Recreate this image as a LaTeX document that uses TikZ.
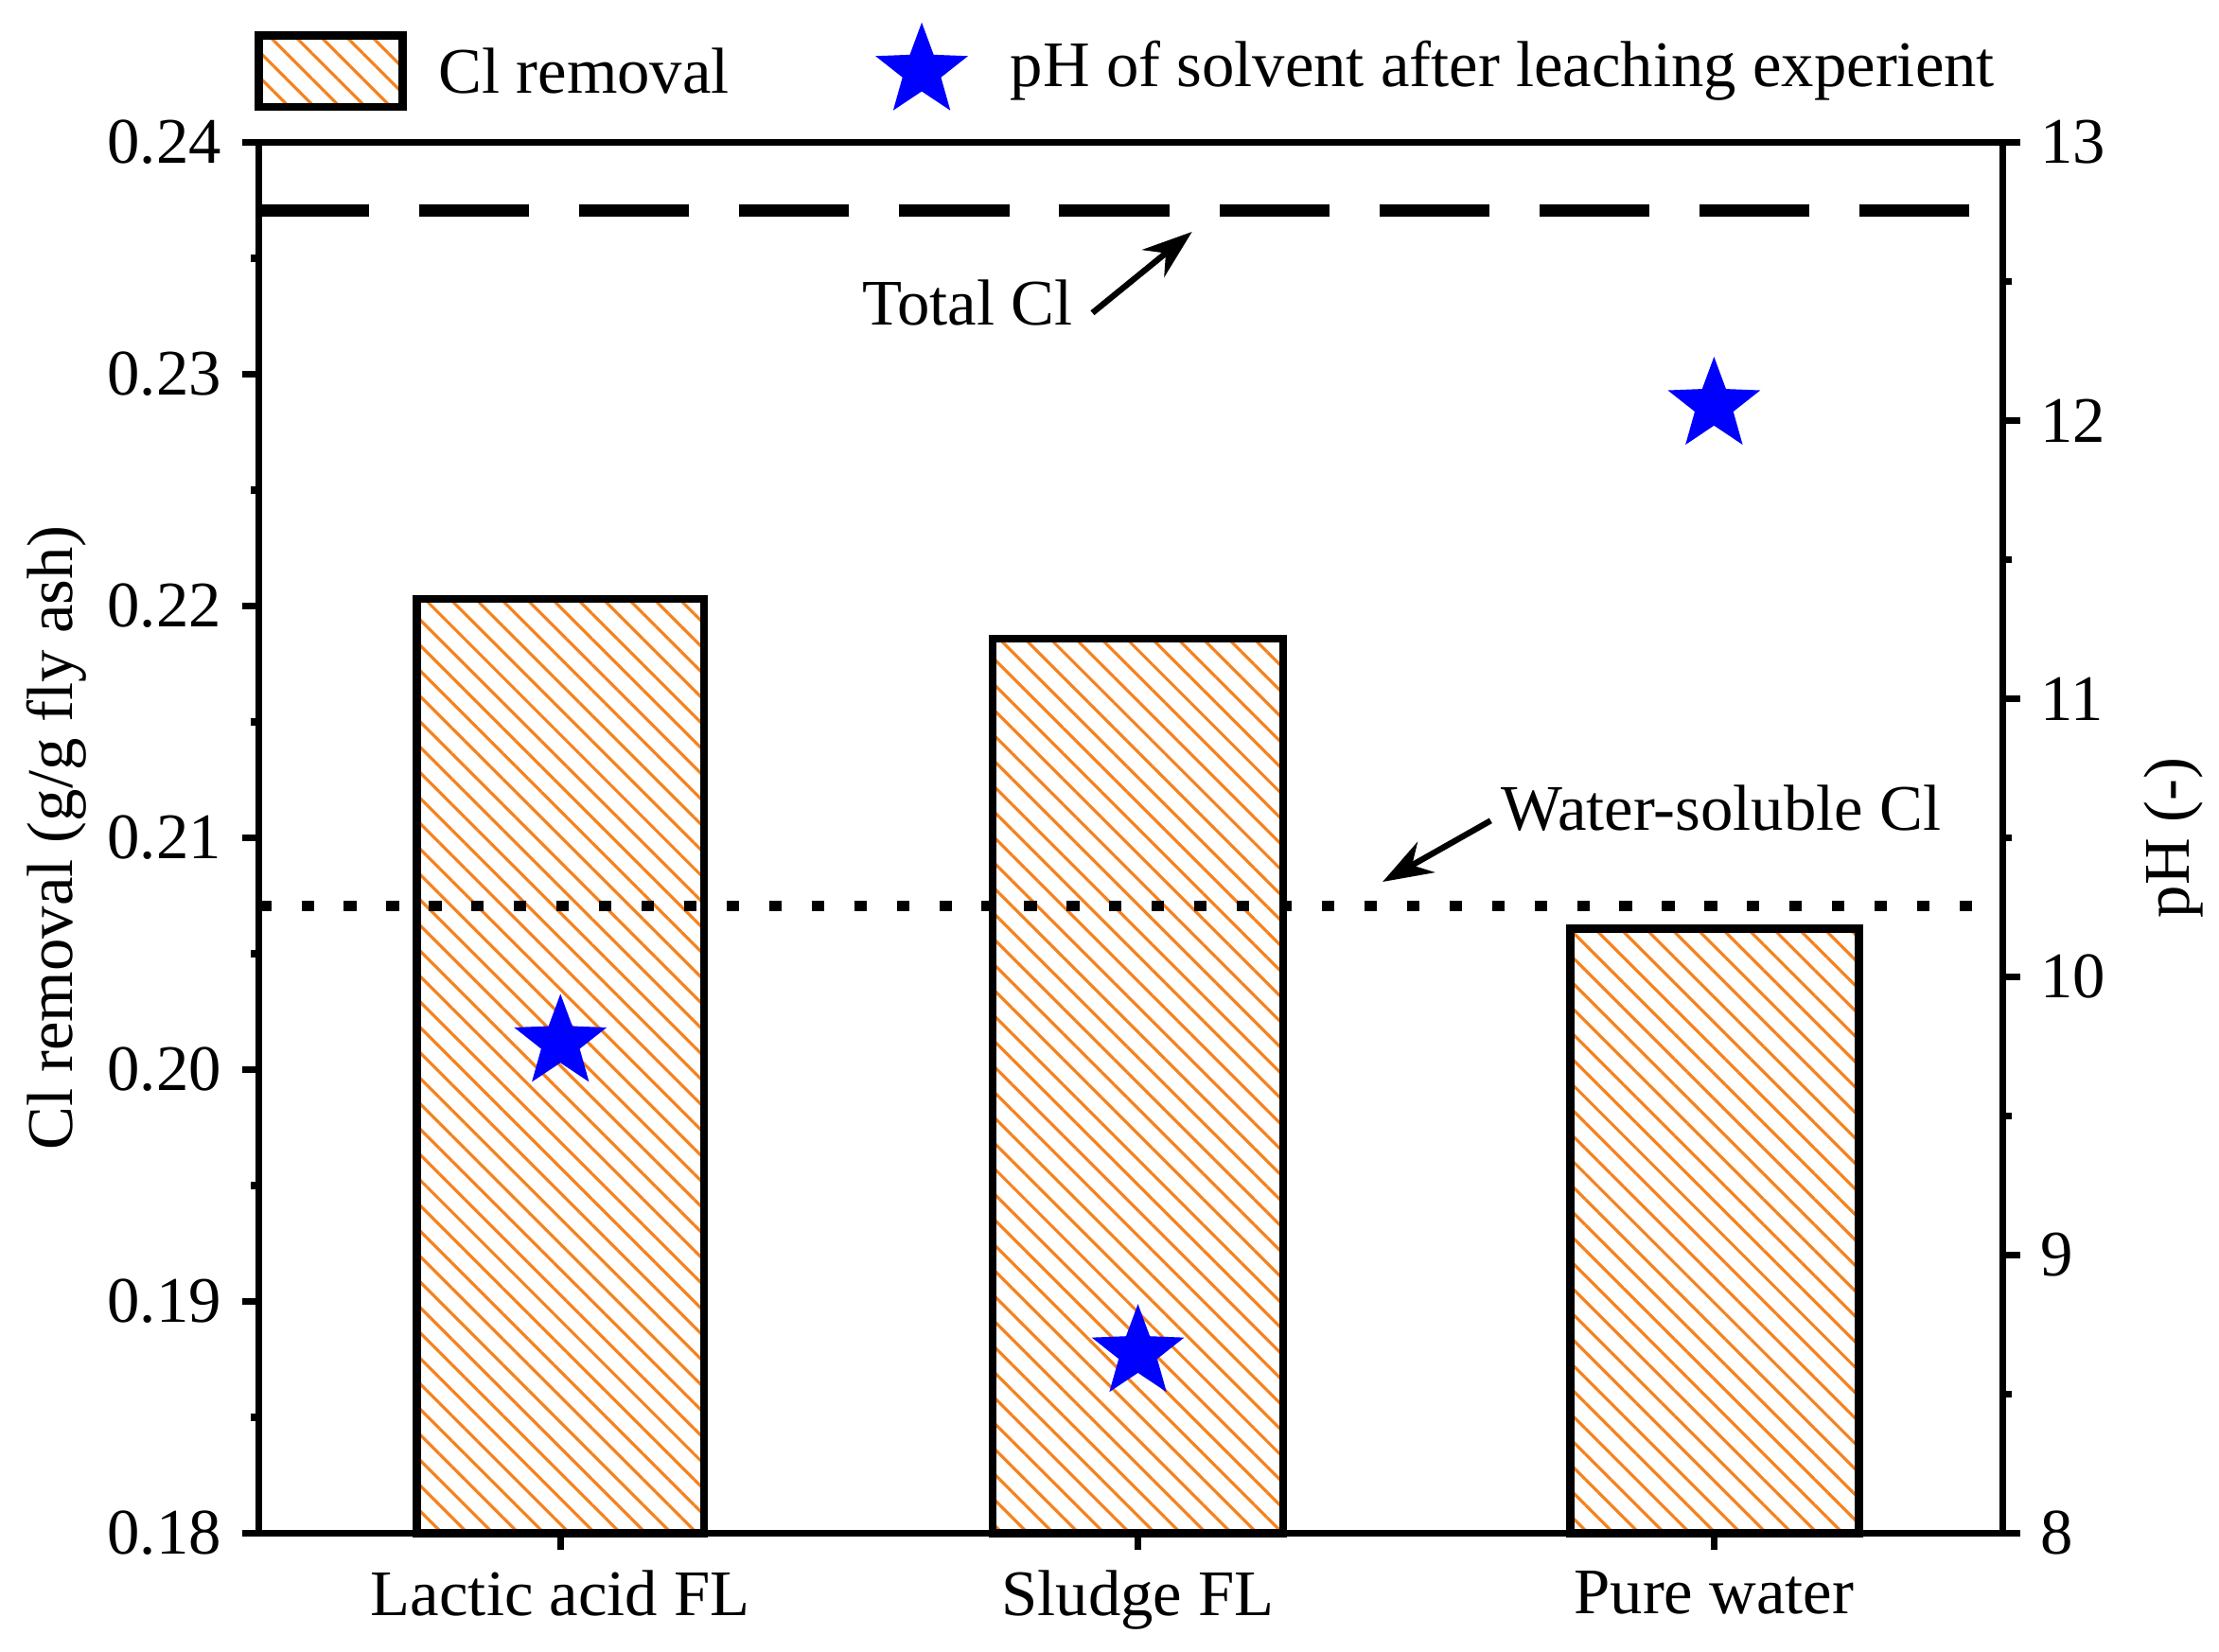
\documentclass[tikz,border=0pt]{standalone}
\usepackage{fontspec}
\setmainfont{Liberation Serif}
\usetikzlibrary{patterns.meta,shapes.geometric,arrows.meta}
\begin{document}
\begin{tikzpicture}[x=0.01cm,y=-0.01cm,
  bar/.style={draw=black,line width=1.6pt,pattern={Lines[angle=-45,distance=3.6pt,line width=0.6pt]},pattern color={rgb,255:red,245;green,130;blue,30}},
  starm/.style={star,star points=5,star point ratio=2.4,fill=blue,draw=blue,inner sep=0pt,minimum size=36\pgflinewidth,line width=0.5pt},
  lbl/.style={font=\fontsize{13}{15}\selectfont},
  tk/.style={font=\fontsize{13}{15}\selectfont},
  ax/.style={line width=1.4pt}]
\useasboundingbox (0,0) rectangle (1560,1161);
% bars
\draw[bar] (293,1078) rectangle (495,421);
\draw[bar] (698,1078) rectangle (902,449);
\draw[bar] (1104,1078) rectangle (1307,653);
% frame
\draw[ax] (182,100) rectangle (1408,1078);
% left ticks
\foreach \v/\l [count=\i from 0] in {0.18/0.18,0.19/0.19,0.20/0.20,0.21/0.21,0.22/0.22,0.23/0.23,0.24/0.24}{
  \draw[ax] (182,1078-\i*163) -- (170,1078-\i*163);
  \node[tk,anchor=east] (lt\i) at (168,1078-\i*163) {\l};
}
\foreach \i in {0,...,5}{\draw[ax] (182,1078-\i*163-81.5) -- (176,1078-\i*163-81.5);}
% right ticks
\foreach \i in {0,...,5}{
  \pgfmathtruncatemacro\lab{8+\i}
  \draw[ax] (1408,1078-\i*195.6) -- (1420,1078-\i*195.6);
  \node[tk,anchor=west] (rt\i) at (1422,1078-\i*195.6) {\lab};
}
\foreach \i in {0,...,4}{\draw[ax] (1408,1078-\i*195.6-97.8) -- (1414,1078-\i*195.6-97.8);}
% bottom ticks
\foreach \x/\t [count=\i] in {394/Lactic acid FL,800/Sludge FL,1205/Pure water}{
  \draw[ax] (\x,1078) -- (\x,1090);
  \node[tk,anchor=north] (bt\i) at (\x,1092) {\t};
}
% axis labels
\node[lbl,rotate=90] (yl) at (40,589) {Cl removal (g/g fly ash)};
\node[lbl,rotate=90] (yr) at (1528,589) {pH (-)};
% reference lines
\draw[line width=2.6pt,dash pattern=on 22pt off 10pt] (182,148) -- (1408,148);
\draw[line width=2.2pt,dash pattern=on 2.5pt off 6pt] (182,637) -- (1408,637);
\node[tk,anchor=center] (tc) at (680,213) {Total Cl};
\coordinate (tca) at (838,163);
\draw[line width=1.2pt,-{Stealth[length=10pt,width=7pt]}] (768,220) -- (tca);
\node[tk,anchor=center] (wc) at (1210,568) {Water-soluble Cl};
\coordinate (wca) at (972,620);
\draw[line width=1.2pt,-{Stealth[length=10pt,width=7pt]}] (1048,577) -- (wca);
% stars
\node[starm] (s1) at (394,733) {};
\node[starm] (s2) at (800,951) {};
\node[starm] (s3) at (1205,285) {};
% legend
\draw[bar] (182,25) rectangle (283,75);
\node[tk,anchor=west] (l1) at (296,50) {Cl removal};
\node[starm] (ls) at (648,50) {};
\node[tk,anchor=west] (l2) at (698,50) {pH of solvent after leaching experient};
\end{tikzpicture}
\end{document}
